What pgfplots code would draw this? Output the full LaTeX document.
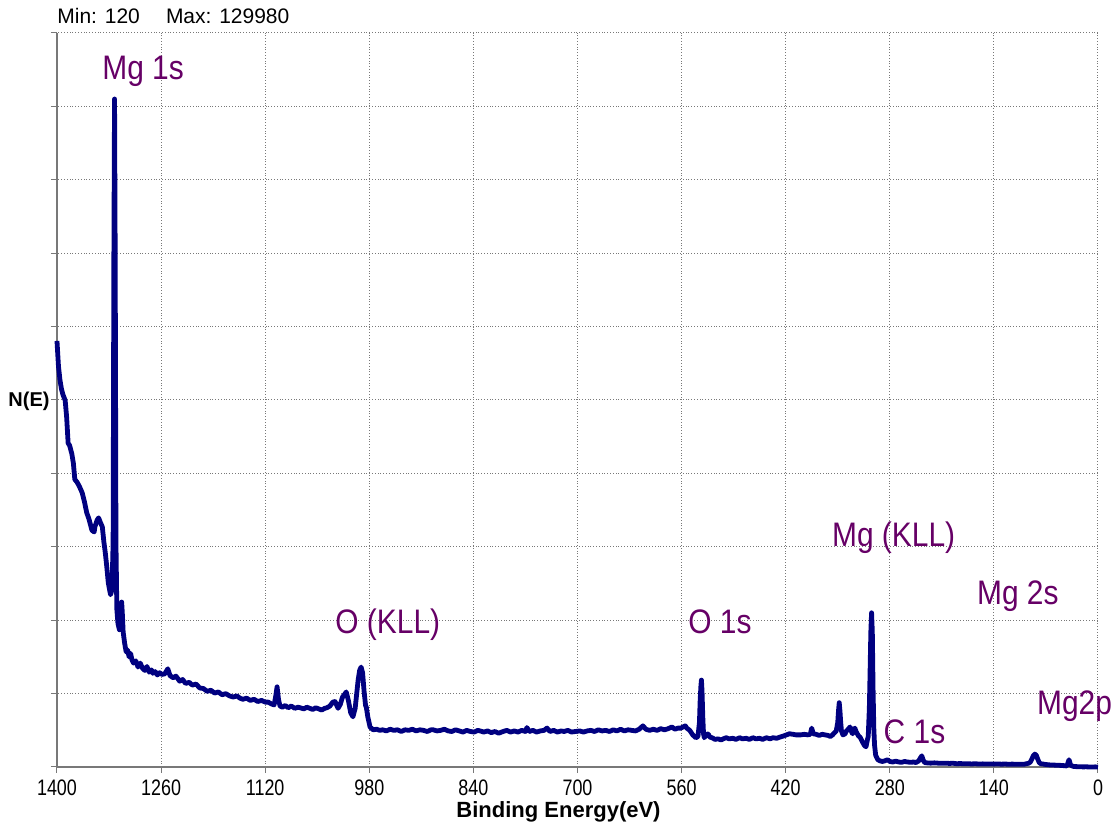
\documentclass[border=0pt]{standalone}
\usepackage{fontspec}
\setmainfont{Liberation Sans}
\newfontfamily\tickfont[FakeStretch=0.8]{Liberation Sans}
\newfontfamily\peakfont[FakeStretch=0.88]{Liberation Sans}
\usepackage{pgfplots}
\usepackage{pgfplotstable}
\pgfplotsset{compat=1.18}

\definecolor{spec}{RGB}{0,0,128}
\definecolor{peak}{RGB}{102,0,102}
\definecolor{gridc}{RGB}{120,120,120}

% XPS survey spectrum: binding energy (eV), counts
\pgfplotstableread{
E C
1400 75500
1398 71000
1396 68600
1394 67000
1392 66000
1389 65000
1387 62000
1385 57400
1383 57000
1380 55500
1378 53900
1376 51000
1373 50500
1370 49800
1366 48600
1363 47000
1360 45100
1357 44000
1353 42000
1350 41700
1349 42600
1346 43800
1344 44200
1342 43500
1339 42600
1337 40000
1335 38000
1333 35500
1331 32700
1328 30600
1326 31500
1324.5 40000
1323.5 90000
1322.6 118300
1321.7 90000
1320.7 40000
1319.5 28000
1318 25500
1316 24400
1314.5 27000
1313 29300
1312 27000
1311 24000
1309 22000
1307 20500
1305 20800
1303 19600
1301 20200
1299 19000
1297 18500
1294 18900
1291 17800
1288 18500
1285 17600
1282 17200
1279 17900
1276 16900
1273 17300
1271 16700
1268 17000
1265 16400
1262 16800
1259 16500
1255 16600
1251 17500
1248 16300
1244 15900
1240 16200
1235 15300
1231 15600
1227 14900
1222 15100
1218 14600
1213 14800
1208 14100
1203 14000
1198 13500
1193 13700
1188 13200
1183 13400
1178 12900
1173 13100
1168 12700
1163 12500
1158 12700
1154 12300
1150 12100
1145 12300
1140 11900
1135 12100
1130 11700
1125 11900
1120 11600
1116 11600
1112 11300
1108 11100
1106 12500
1104 14300
1102 12000
1100 10900
1097 10700
1093 11000
1089 10600
1085 10900
1080 10500
1076 10700
1073 10600
1068 10400
1064 10700
1060 10500
1056 10300
1052 10600
1048 10400
1044 10200
1040 10500
1037 10600
1033 10900
1029 11600
1026 11700
1023 10800
1022 10500
1019 11200
1016 12500
1013 13000
1011 13400
1008 11800
1005 9700
1002 9000
999 10500
997 13000
995 15500
993 17200
991 17800
989 16800
987 13500
985 11000
984 10700
982 9000
979 7200
975 6700
970 6800
966 6600
962 6700
957 6500
952 6800
947 6600
942 6700
937 6400
932 6700
927 6600
922 6800
917 6500
912 6700
907 6600
902 6400
897 6700
894 6700
889 6500
884 6600
879 6800
874 6500
869 6400
864 6700
859 6500
854 6300
849 6600
844 6400
839 6300
834 6600
831 6500
826 6300
821 6500
816 6200
811 6400
806 6100
800 6400
795 6600
790 6300
785 6500
780 6300
775 6600
770 6400
768 7100
765 6400
760 6600
755 6300
750 6500
745 6600
741 7000
737 6400
732 6600
727 6300
722 6500
718 6400
713 6600
708 6300
703 6400
697 6500
692 6300
687 6500
682 6600
677 6400
672 6700
667 6500
662 6600
657 6400
652 6700
647 6500
642 6800
637 6500
632 6700
627 6600
622 6500
617 6800
612 7400
608 6800
603 6600
598 6800
593 6600
588 6900
583 6700
578 6900
573 7200
569 6800
565 7000
561 7000
558 7200
555 7400
553 7000
549 6600
545 5800
541 5300
538 5500
536 8000
535 12000
534 14500
533.3 15500
532.5 13500
531.5 9000
530.5 6000
529.5 5300
528 5600
526 6000
524 5900
522 5400
519 5300
515 5000
511 5100
507 4900
504 5100
500 5300
496 5100
491 5200
487 5000
482 5300
478 5100
473 5200
469 5000
464 5300
460 5100
455 5200
451 5000
446 5300
441 5100
437 5300
432 5200
428 5400
423 5600
419 5800
415 6000
410 5900
406 5800
400 5800
395 5900
390 5800
387 5900
385 7000
383 6000
379 5900
375 5700
371 5900
367 5800
363 5700
360 5500
357 5800
355 6100
352 6500
350 8000
349 10000
348 11500
347 10000
346 8000
345 6500
343 5800
340 6000
339 6400
336 6800
333.5 7200
331 6200
330 6000
328 6800
327 7000
325 6300
322 5600
320 5400
317 4600
314 3900
312 3700
310 5000
309 5500
307.5 10500
306.5 17000
305.5 24000
304.5 27400
303.5 24000
302.5 14000
301.5 7000
300.5 4000
299 2200
296 1400
293 1200
290 1100
287 1200
283 1400
280 1100
276 1000
272 1150
268 1000
264 950
260 1100
256 1000
252 950
248 1000
245 900
241 1200
239 1700
237 2100
235 1300
233 900
230 850
225 800
220 850
215 800
210 780
205 800
200 750
195 780
190 700
185 730
180 680
175 700
170 660
165 690
160 650
155 670
150 640
145 660
140 630
135 650
130 620
125 640
120 610
115 630
110 600
105 620
100 590
96 700
93 800
91 1000
89 1500
87 2100
85 2400
83 2200
81 1500
79 900
77 700
74 640
70 560
66 500
62 470
58 450
54 430
50 400
46 360
42 300
41 600
40 1000
39 1400
38 1000
37 500
35 300
32 200
28 180
24 160
20 140
16 150
12 130
8 120
4 140
0 120
}\spectrum

\begin{document}
\begin{tikzpicture}
\useasboundingbox (-28.5pt,-33pt) rectangle (530.5pt,383.5pt);
\begin{axis}[
  at={(0pt,0pt)}, anchor=south west,
  scale only axis, width=520.5pt, height=367pt,
  x dir=reverse,
  xmin=0, xmax=1400, ymin=120, ymax=129980,
  xtick={0,140,...,1400},
  ytick={120,13106,26092,39078,52064,65050,78036,91022,104008,116994,129980},
  yticklabels={},
  scaled y ticks=false,
  /pgf/number format/1000 sep={},
  /pgf/number format/assume math mode=true,
  xticklabel style={font=\tickfont\fontsize{11.2}{13}\selectfont, text=black},
  axis x line*=bottom, axis y line*=left,
  axis line style={gridc, line width=0.8pt, -},
  tick style={gridc, line width=0.5pt},
  tick align=outside,
  major tick length=3pt,
  grid=major,
  major grid style={gridc, densely dotted, line width=0.5pt},
  clip=false,
]
\addplot[spec, line width=2.4pt, line join=round] table[x=E, y=C] {\spectrum};

\begin{scope}[every node/.style={font=\peakfont\fontsize{17}{20}\selectfont, text=peak, inner sep=0pt}]
\node[anchor=base west] at (axis cs:1339.5,121664) {Mg 1s};
\node[anchor=base west] at (axis cs:1026.1,23650) {O (KLL)};
\node[anchor=base west] at (axis cs:551.4,23650) {O 1s};
\node[anchor=base west] at (axis cs:358.1,39095) {Mg (KLL)};
\node[anchor=base west] at (axis cs:163.1,28781) {Mg 2s};
\node[anchor=base west] at (axis cs:288.7,4313) {C 1s};
\node[anchor=base west] at (axis cs:82.4,9320) {Mg2p};
\end{scope}
\end{axis}

\node[anchor=base west, inner sep=0pt, font=\fontsize{10.5}{12}\selectfont] at (0pt,371.5pt) {Min: 120};
\node[anchor=base west, inner sep=0pt, font=\fontsize{10.5}{12}\selectfont] at (54.3pt,371.5pt) {Max: 129980};
\node[inner sep=0pt, font=\bfseries\fontsize{10}{12}\selectfont] at (-14pt,182.75pt) {N(E)};
\node[anchor=base, inner sep=0pt, font=\bfseries\fontsize{11}{13}\selectfont] at (250.75pt,-25.5pt) {Binding Energy(eV)};
\end{tikzpicture}
\end{document}
